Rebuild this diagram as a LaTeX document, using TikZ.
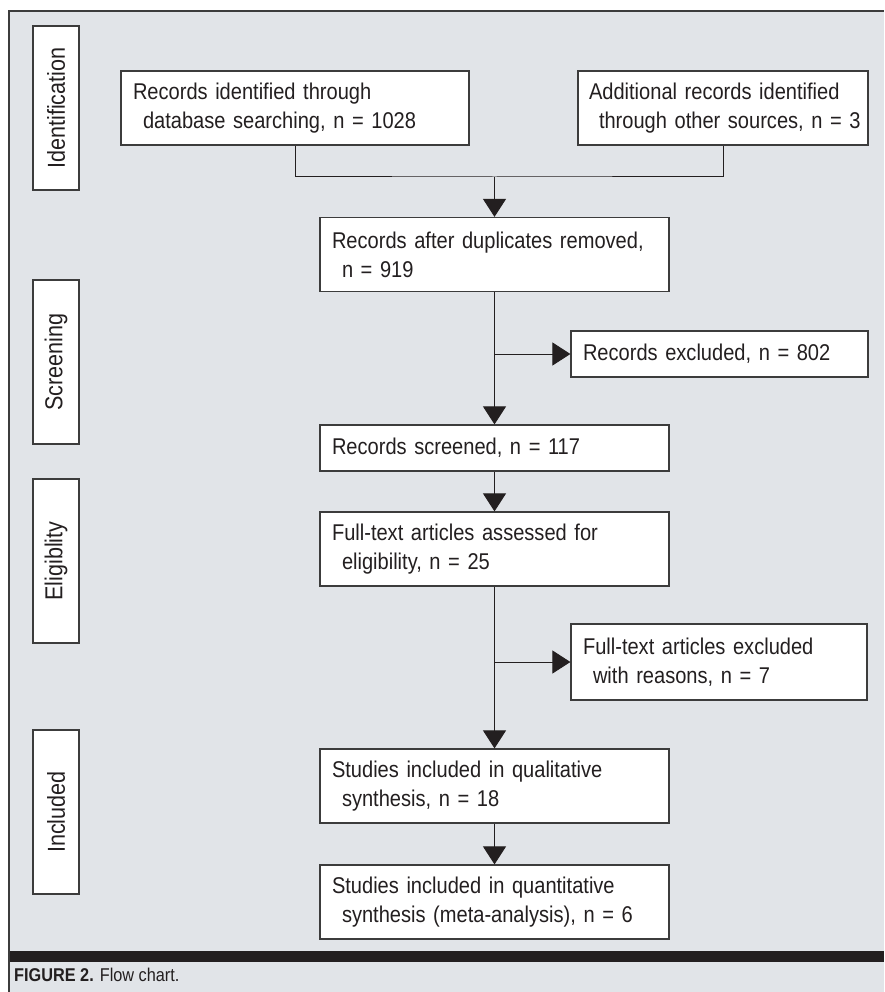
\documentclass[tikz,border=0pt]{standalone}
\usepackage{fontspec}
\setmainfont{Liberation Sans}[FakeStretch=0.88]
\usetikzlibrary{arrows.meta}
\definecolor{panelgray}{HTML}{E1E4E8}
\definecolor{linegray}{HTML}{3C3C3C}
\definecolor{inkblack}{HTML}{231F20}
\newcommand{\ind}{\hspace*{10pt}}

\begin{document}
\begin{tikzpicture}[x=1pt, y=-1pt,
    box/.style={draw=linegray, fill=white, line width=1.2pt, inner xsep=12pt, inner ysep=0pt,
        align=left, text=inkblack, font=\fontsize{22.8}{29}\selectfont},
    mainbox/.style={box, text width=325pt, minimum height=74pt},
    sidebox/.style={box, rotate=90, align=center, inner xsep=0pt, minimum width=164pt, minimum height=46pt,
        font=\fontsize{24.5}{29}\selectfont},
    link/.style={draw=inkblack, line width=1pt},
    flow/.style={link, -{Triangle[length=18pt, width=23pt]}}]
        \useasboundingbox (0,0) rectangle (884,992);

        % panel and caption
        \fill[panelgray] (9,11) rectangle (884,992);
        \draw[linegray, line width=1.2pt] (9,992) -- (9,11) -- (884,11);
        \fill[inkblack] (10,951) rectangle (884,962);
        \node[anchor=base west, inner sep=0pt, text=inkblack, font=\fontsize{18.5}{22}\selectfont] (caption) at (14,981) {\textbf{FIGURE 2.} Flow chart.};

        % identification
        \node[sidebox] (ident) at (56,108) {Identification};
        \node[box, text width=324pt, minimum height=74pt] (dbrec) at (295,108) {Records identified through\\\ind database searching, n = 1028};
        \node[box, inner xsep=11pt, text width=268pt, minimum height=74pt] (otherrec) at (723,108) {Additional records identified\\\ind\mbox{through other sources, n = 3}};

        % screening
        \node[sidebox] (screen) at (56,362) {Screening};
        \node[mainbox] (dedup) at (494.5,254.5) {Records after duplicates removed,\\\ind n = 919};
        \node[box, text width=273pt, minimum height=46pt] (excl1) at (719.5,354) {Records excluded, n = 802};
        \node[mainbox, minimum height=46pt] (screened) at (494.5,448) {Records screened, n = 117};

        % eligibility
        \node[sidebox] (elig) at (56,561) {Eligiblity};
        \node[mainbox] (fulltext) at (494.5,549) {Full-text articles assessed for\\\ind eligibility, n = 25};
        \node[box, text width=272pt, minimum height=76pt] (excl2) at (719,662) {Full-text articles excluded\\\ind with reasons, n = 7};

        % included
        \node[sidebox] (incl) at (56,812) {Included};
        \node[mainbox] (qual) at (494.5,786) {Studies included in qualitative\\\ind synthesis, n = 18};
        \node[mainbox] (quant) at (494.5,902) {Studies included in quantitative\\\ind synthesis (meta-analysis), n = 6};

        % connectors
        \coordinate (merge) at (494.5,177);
        \draw[link] (dbrec.south) |- (merge) -| (otherrec.south);
        \draw[flow] (merge) -- (dedup.north);
        \draw[flow] (dedup.south) -- (screened.north);
        \coordinate (split1) at (dedup.south |- excl1.west);
        \draw[flow] (split1) -- (excl1.west);
        \draw[flow] (screened.south) -- (fulltext.north);
        \draw[flow] (fulltext.south) -- (qual.north);
        \coordinate (split2) at (fulltext.south |- excl2.west);
        \draw[flow] (split2) -- (excl2.west);
        \draw[flow] (qual.south) -- (quant.north);
    \end{tikzpicture}
\end{document}
